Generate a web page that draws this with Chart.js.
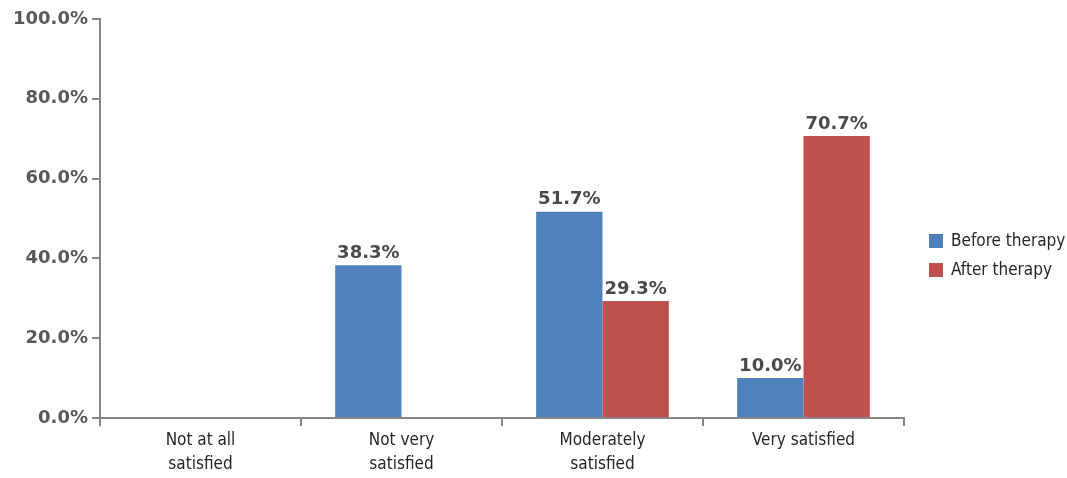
<!DOCTYPE html>
<html>
<head>
<meta charset="utf-8">
<style>
  html, body { margin: 0; padding: 0; background: #ffffff; }
  #wrap { position: relative; width: 1067px; height: 478px; }
</style>
<script src="https://cdn.jsdelivr.net/npm/chart.js@4/dist/chart.umd.min.js"></script>
</head>
<body>
<div id="wrap"><canvas id="chart" width="1067" height="478"></canvas></div>
<script>
// Satisfaction levels before and after therapy (percent of respondents)
const categories = [
  ['Not at all', 'satisfied'],
  ['Not very', 'satisfied'],
  ['Moderately', 'satisfied'],
  'Very satisfied'
];
const seriesNames = ['Before therapy', 'After therapy'];
const beforeTherapy = [0, 38.3, 51.7, 10.0];
const afterTherapy = [0, 0, 29.3, 70.7];
const yTicks = [0, 20, 40, 60, 80, 100];

const BLUE = '#4f81bd';
const RED = '#c0504d';
const AXIS = '#868686';
const NUM_FONT = '"DejaVu Sans", Verdana, sans-serif';
const NARROW_FONT = '"DejaVu Sans Condensed", "DejaVu Sans", sans-serif';

// Percentage labels above every non-zero bar
const valueLabels = {
  id: 'valueLabels',
  afterDatasetsDraw(chart) {
    const ctx = chart.ctx;
    ctx.save();
    ctx.font = 'bold 18px ' + NUM_FONT;
    ctx.fillStyle = '#4a4a4a';
    ctx.textAlign = 'center';
    ctx.textBaseline = 'bottom';
    chart.data.datasets.forEach((ds, i) => {
      const meta = chart.getDatasetMeta(i);
      meta.data.forEach((bar, j) => {
        const v = ds.data[j];
        if (v > 0) ctx.fillText(v.toFixed(1) + '%', bar.x, bar.y - 3);
      });
    });
    ctx.restore();
  }
};

// Legend drawn to the right of the plot area
const sideLegend = {
  id: 'sideLegend',
  afterDraw(chart) {
    const ctx = chart.ctx;
    const area = chart.chartArea;
    const x0 = area.right + 25;
    const ys = [241, 270];
    ctx.save();
    ctx.font = '17px ' + NARROW_FONT;
    ctx.textBaseline = 'middle';
    ctx.textAlign = 'left';
    chart.data.datasets.forEach((ds, i) => {
      ctx.fillStyle = ds.backgroundColor;
      ctx.fillRect(x0, ys[i] - 7, 14, 14);
      ctx.fillStyle = '#262626';
      ctx.fillText(ds.label, x0 + 22, ys[i] + 1);
    });
    ctx.restore();
  }
};

new Chart(document.getElementById('chart'), {
  type: 'bar',
  data: {
    labels: categories,
    datasets: [
      { label: seriesNames[0], data: beforeTherapy, backgroundColor: BLUE },
      { label: seriesNames[1], data: afterTherapy, backgroundColor: RED }
    ]
  },
  options: {
    responsive: false,
    animation: false,
    devicePixelRatio: 1,
    layout: { padding: { top: 19, right: 163, bottom: 0, left: 0 } },
    datasets: {
      bar: { categoryPercentage: 0.66, barPercentage: 1.0, borderWidth: 0 }
    },
    plugins: {
      legend: { display: false },
      tooltip: { enabled: false }
    },
    scales: {
      x: {
        offset: true,
        grid: {
          offset: true,
          drawOnChartArea: false,
          drawTicks: true,
          tickLength: 8,
          color: AXIS,
          lineWidth: 2
        },
        border: { display: true, color: AXIS, width: 2 },
        ticks: {
          color: '#262626',
          font: { family: NARROW_FONT, size: 17, lineHeight: 1.4 },
          padding: 3,
          maxRotation: 0,
          autoSkip: false
        },
        afterFit(scale) { scale.height = 60; }
      },
      y: {
        min: 0,
        max: 100,
        afterBuildTicks(scale) { scale.ticks = yTicks.map(v => ({ value: v })); },
        grid: {
          drawOnChartArea: false,
          drawTicks: true,
          tickLength: 8,
          color: AXIS,
          lineWidth: 2
        },
        border: { display: true, color: AXIS, width: 2 },
        ticks: {
          color: '#595959',
          font: { family: NUM_FONT, size: 18, weight: 'bold' },
          padding: 4,
          callback: v => v.toFixed(1) + '%'
        },
        afterFit(scale) { scale.width = 100; }
      }
    }
  },
  plugins: [valueLabels, sideLegend]
});
</script>
</body>
</html>
